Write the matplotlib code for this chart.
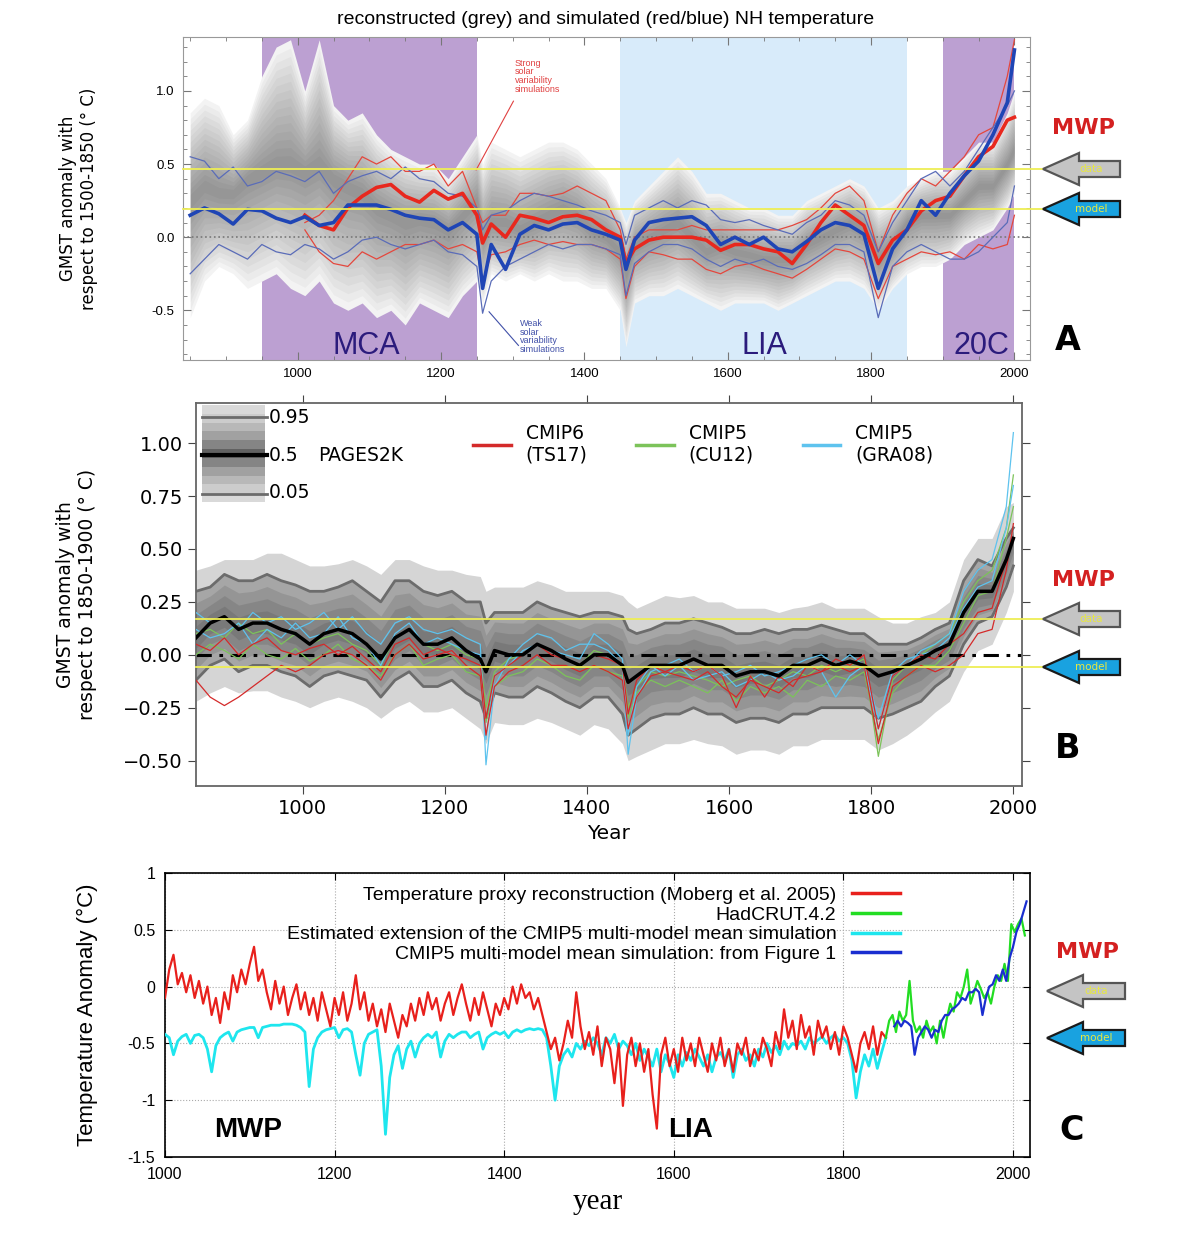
import numpy as np
import matplotlib
matplotlib.use("Agg")
import matplotlib.pyplot as plt
from matplotlib.patches import FancyArrow
from matplotlib.lines import Line2D
from matplotlib.ticker import MultipleLocator, FuncFormatter

nan = np.nan

# ---------------- data: panels A and B share one year grid ----------------
years_ab = [850, 870, 890, 910, 930, 950, 970, 990, 1010, 1030, 1050, 1070,
            1090, 1110, 1130, 1150, 1170, 1190, 1210, 1230, 1250, 1258,
            1270, 1290, 1310, 1330, 1350, 1370, 1390, 1410, 1430, 1450, 1458,
            1470, 1490, 1510, 1530, 1550, 1570, 1590, 1610, 1630, 1650, 1670,
            1690, 1710, 1730, 1750, 1770, 1790, 1810, 1830, 1850, 1870, 1890,
            1910, 1930, 1950, 1970, 1990, 2000]

# panel A: grey reconstruction (outer envelope and median)
recon_hi = [0.85, 0.95, 0.90, 0.70, 0.80, 1.10, 1.30, 1.35, 1.00, 1.35, 0.90, 0.80,
            0.85, 0.70, 0.60, 0.55, 0.50, 0.50, 0.40, 0.55, 0.70, 0.50,
            0.65, 0.60, 0.55, 0.60, 0.65, 0.65, 0.60, 0.50, 0.40, 0.20, 0.10,
            0.25, 0.35, 0.45, 0.55, 0.45, 0.30, 0.30, 0.25, 0.20, 0.20, 0.15,
            0.15, 0.25, 0.30, 0.35, 0.40, 0.35, 0.20, 0.25, 0.35, 0.40, 0.45,
            0.45, 0.55, 0.65, 0.65, 0.85, 1.00]
recon_med = [0.25, 0.35, 0.30, 0.30, 0.40, 0.45, 0.50, 0.50, 0.45, 0.50, 0.40, 0.35,
             0.30, 0.20, 0.15, 0.10, 0.12, 0.10, 0.05, 0.15, 0.25, 0.00,
             0.10, 0.10, 0.05, 0.10, 0.15, 0.20, 0.15, 0.05, 0.00, -0.10, -0.25,
             -0.05, 0.00, 0.05, 0.10, 0.00, -0.10, -0.05, -0.10, -0.12, -0.15, -0.15,
             -0.15, -0.05, 0.00, 0.05, 0.10, 0.05, -0.15, -0.05, 0.10, 0.15, 0.15,
             0.15, 0.25, 0.35, 0.35, 0.50, 0.60]
recon_lo = [-0.55, -0.30, -0.20, -0.25, -0.35, -0.30, -0.25, -0.35, -0.40, -0.30, -0.45, -0.50,
            -0.45, -0.55, -0.50, -0.60, -0.45, -0.50, -0.55, -0.40, -0.30, -0.45,
            -0.25, -0.30, -0.25, -0.30, -0.25, -0.30, -0.30, -0.35, -0.35, -0.50, -0.75,
            -0.45, -0.40, -0.40, -0.35, -0.40, -0.45, -0.50, -0.45, -0.45, -0.45, -0.50,
            -0.45, -0.40, -0.35, -0.30, -0.30, -0.35, -0.50, -0.35, -0.25, -0.20, -0.20,
            -0.15, -0.05, 0.00, 0.05, 0.20, 0.30]

# panel A: strong solar (red) and weak solar (blue) simulations
red_mean = [nan, nan, nan, nan, nan, nan, nan, nan, 0.15, 0.08, 0.05, 0.20,
            0.28, 0.34, 0.36, 0.28, 0.24, 0.32, 0.26, 0.30, 0.15, -0.04,
            0.09, 0.00, 0.15, 0.13, 0.10, 0.14, 0.15, 0.12, 0.05, 0.00, -0.18,
            -0.08, -0.02, 0.00, 0.00, 0.00, -0.02, -0.09, -0.05, -0.05, -0.08, -0.10,
            -0.18, -0.05, 0.10, 0.22, 0.15, 0.08, -0.18, -0.02, 0.05, 0.18, 0.25,
            0.28, 0.42, 0.55, 0.62, 0.80, 0.82]
red_hi = [nan, nan, nan, nan, nan, nan, nan, nan, 0.10, 0.15, 0.25, 0.40,
          0.55, 0.50, 0.55, 0.45, 0.45, 0.50, 0.35, 0.45, 0.20, 0.10,
          0.15, 0.15, 0.30, 0.30, 0.28, 0.30, 0.35, 0.30, 0.25, 0.05, -0.15,
          0.00, 0.05, 0.05, 0.05, 0.08, 0.05, 0.05, 0.05, 0.05, 0.05, 0.05,
          0.08, 0.12, 0.20, 0.30, 0.35, 0.25, -0.10, 0.15, 0.30, 0.40, 0.35,
          0.45, 0.55, 0.70, 0.75, 1.10, 1.35]
red_lo = [nan, nan, nan, nan, nan, nan, nan, nan, 0.05, -0.10, -0.18, -0.20,
          -0.10, -0.15, -0.10, -0.05, -0.05, -0.02, -0.08, -0.05, -0.10, -0.30,
          -0.12, -0.10, -0.05, -0.02, -0.05, -0.03, -0.05, -0.05, -0.08, -0.15, -0.42,
          -0.20, -0.10, -0.12, -0.15, -0.15, -0.22, -0.25, -0.20, -0.18, -0.22, -0.25,
          -0.28, -0.22, -0.15, -0.08, -0.10, -0.15, -0.42, -0.20, -0.15, -0.10, -0.12,
          -0.10, -0.15, -0.05, -0.08, -0.05, 0.15]
blue_mean = [0.15, 0.20, 0.16, 0.09, 0.19, 0.18, 0.13, 0.10, 0.14, 0.08, 0.10, 0.22,
             0.22, 0.22, 0.19, 0.15, 0.13, 0.12, 0.05, 0.10, 0.02, -0.35,
             -0.05, -0.22, 0.02, 0.08, 0.05, 0.09, 0.10, 0.05, 0.02, -0.02, -0.22,
             -0.02, 0.10, 0.12, 0.13, 0.14, 0.08, -0.05, 0.00, -0.05, 0.00, -0.08,
             -0.10, -0.03, 0.05, 0.10, 0.08, 0.02, -0.35, -0.08, 0.05, 0.25, 0.15,
             0.30, 0.42, 0.52, 0.70, 0.92, 1.28]
blue_hi = [0.55, 0.52, 0.40, 0.48, 0.35, 0.38, 0.45, 0.42, 0.38, 0.45, 0.30, 0.38,
           0.42, 0.45, 0.40, 0.48, 0.40, 0.38, 0.30, 0.28, 0.20, 0.05,
           0.15, 0.18, 0.25, 0.30, 0.28, 0.25, 0.22, 0.18, 0.15, 0.10, -0.05,
           0.15, 0.20, 0.25, 0.20, 0.25, 0.22, 0.12, 0.10, 0.12, 0.08, 0.05,
           0.02, 0.10, 0.15, 0.25, 0.22, 0.15, -0.10, 0.10, 0.25, 0.40, 0.45,
           0.35, 0.45, 0.60, 0.75, 0.90, 1.00]
blue_lo = [-0.25, -0.15, -0.05, -0.10, -0.15, -0.05, -0.10, -0.12, -0.05, -0.08, -0.15, -0.10,
           -0.02, 0.00, -0.05, -0.08, -0.05, -0.02, -0.10, -0.12, -0.20, -0.52,
           -0.30, -0.20, -0.15, -0.10, -0.05, -0.08, -0.05, -0.05, -0.08, -0.12, -0.40,
           -0.18, -0.10, -0.05, -0.05, -0.08, -0.15, -0.20, -0.15, -0.18, -0.15, -0.20,
           -0.22, -0.18, -0.12, -0.05, -0.05, -0.10, -0.55, -0.20, -0.10, -0.05, -0.10,
           -0.15, -0.15, -0.10, 0.00, 0.10, 0.35]

# panel B: PAGES2K quantiles
pages_hi = [0.40, 0.42, 0.45, 0.45, 0.45, 0.48, 0.48, 0.45, 0.42, 0.42, 0.43, 0.45,
            0.42, 0.38, 0.45, 0.45, 0.42, 0.40, 0.40, 0.38, 0.37, 0.30,
            0.32, 0.32, 0.32, 0.35, 0.33, 0.30, 0.30, 0.30, 0.30, 0.28, 0.25,
            0.22, 0.25, 0.28, 0.27, 0.28, 0.25, 0.25, 0.22, 0.22, 0.22, 0.20,
            0.22, 0.23, 0.25, 0.22, 0.22, 0.22, 0.18, 0.15, 0.15, 0.18, 0.20,
            0.25, 0.45, 0.55, 0.55, 0.70, 0.72]
pages_p95 = [0.30, 0.32, 0.38, 0.35, 0.35, 0.38, 0.35, 0.33, 0.30, 0.30, 0.32, 0.35,
             0.30, 0.25, 0.35, 0.35, 0.30, 0.28, 0.30, 0.25, 0.25, 0.15,
             0.20, 0.20, 0.20, 0.25, 0.22, 0.20, 0.18, 0.20, 0.20, 0.18, 0.12,
             0.10, 0.12, 0.15, 0.15, 0.17, 0.15, 0.13, 0.10, 0.10, 0.12, 0.10,
             0.12, 0.12, 0.14, 0.12, 0.10, 0.10, 0.05, 0.05, 0.05, 0.08, 0.12,
             0.15, 0.35, 0.45, 0.42, 0.55, 0.60]
pages_med = [0.08, 0.15, 0.18, 0.12, 0.15, 0.15, 0.12, 0.10, 0.05, 0.10, 0.12, 0.10,
             0.05, -0.02, 0.08, 0.12, 0.05, 0.05, 0.08, 0.02, -0.02, -0.08,
             0.02, 0.00, 0.00, 0.05, 0.02, -0.02, -0.05, 0.00, 0.00, -0.05, -0.13,
             -0.10, -0.05, -0.05, -0.05, -0.02, -0.05, -0.05, -0.10, -0.08, -0.08, -0.10,
             -0.05, -0.05, -0.02, -0.05, -0.03, -0.05, -0.10, -0.08, -0.05, -0.02, 0.02,
             0.05, 0.20, 0.30, 0.30, 0.45, 0.55]
pages_p05 = [-0.12, -0.05, -0.02, -0.08, -0.05, -0.05, -0.08, -0.10, -0.15, -0.10, -0.08, -0.10,
             -0.12, -0.20, -0.12, -0.08, -0.15, -0.15, -0.12, -0.18, -0.22, -0.30,
             -0.18, -0.20, -0.20, -0.15, -0.18, -0.22, -0.25, -0.20, -0.20, -0.28, -0.38,
             -0.35, -0.30, -0.28, -0.28, -0.25, -0.28, -0.28, -0.32, -0.30, -0.30, -0.32,
             -0.28, -0.28, -0.25, -0.25, -0.25, -0.25, -0.30, -0.28, -0.25, -0.22, -0.15,
             -0.10, 0.05, 0.15, 0.18, 0.32, 0.42]
pages_lo = [-0.22, -0.18, -0.15, -0.18, -0.17, -0.17, -0.20, -0.22, -0.25, -0.22, -0.20, -0.22,
            -0.25, -0.30, -0.25, -0.22, -0.27, -0.27, -0.25, -0.30, -0.35, -0.42,
            -0.32, -0.33, -0.33, -0.30, -0.32, -0.35, -0.38, -0.33, -0.35, -0.42, -0.50,
            -0.48, -0.45, -0.42, -0.42, -0.40, -0.42, -0.43, -0.47, -0.45, -0.45, -0.47,
            -0.43, -0.43, -0.40, -0.40, -0.40, -0.40, -0.45, -0.42, -0.38, -0.33, -0.27,
            -0.22, -0.08, 0.02, 0.05, 0.20, 0.30]

# panel B: model runs
cmip6_a = [-0.12, -0.20, -0.24, -0.20, -0.15, -0.10, -0.05, -0.08, -0.05, 0.00, 0.02, 0.00,
           -0.05, -0.12, 0.00, 0.05, -0.02, 0.00, 0.02, -0.05, -0.10, -0.38,
           -0.15, -0.08, -0.05, 0.00, -0.05, -0.05, -0.08, -0.05, -0.08, -0.12, -0.35,
           -0.20, -0.10, -0.08, -0.10, -0.12, -0.08, -0.15, -0.20, -0.12, -0.15, -0.18,
           -0.12, -0.10, -0.08, -0.05, -0.08, -0.05, -0.42, -0.15, -0.10, -0.05, -0.08,
           -0.05, 0.00, 0.10, 0.12, 0.40, 0.62]
cmip6_b = [0.05, 0.02, 0.08, 0.00, 0.05, 0.08, 0.02, 0.00, 0.03, 0.05, 0.00, 0.04,
           -0.02, -0.08, 0.05, 0.08, 0.00, 0.03, 0.00, -0.02, -0.05, -0.30,
           -0.10, -0.05, 0.00, 0.05, 0.00, -0.02, -0.05, 0.00, -0.02, -0.05, -0.28,
           -0.12, -0.05, -0.08, -0.05, -0.08, -0.05, -0.10, -0.25, -0.10, -0.20, -0.10,
           -0.15, -0.05, -0.08, -0.02, -0.05, 0.00, -0.35, -0.10, -0.05, 0.00, -0.02,
           0.05, 0.10, 0.20, 0.22, 0.45, 0.55]
cu12_a = [0.10, 0.12, 0.08, 0.15, 0.10, 0.12, 0.05, 0.10, 0.05, 0.08, 0.10, 0.05,
          0.02, -0.05, 0.08, 0.12, 0.05, 0.02, 0.05, 0.00, -0.02, -0.25,
          -0.08, -0.02, 0.00, 0.05, 0.02, -0.02, -0.05, 0.02, 0.00, -0.05, -0.25,
          -0.15, -0.08, -0.10, -0.08, -0.10, -0.12, -0.15, -0.12, -0.10, -0.15, -0.12,
          -0.08, -0.10, -0.05, -0.08, -0.05, -0.02, -0.48, -0.12, -0.05, 0.00, 0.05,
          0.10, 0.25, 0.35, 0.40, 0.60, 0.85]
cu12_b = [0.00, 0.05, 0.02, -0.02, 0.05, 0.00, -0.02, 0.03, -0.03, 0.00, 0.05, -0.02,
          -0.05, -0.10, 0.00, 0.05, -0.05, -0.02, 0.00, -0.08, -0.10, -0.32,
          -0.15, -0.10, -0.08, -0.02, -0.05, -0.10, -0.12, -0.05, -0.08, -0.10, -0.30,
          -0.18, -0.12, -0.15, -0.12, -0.15, -0.18, -0.12, -0.22, -0.15, -0.18, -0.15,
          -0.20, -0.12, -0.15, -0.10, -0.12, -0.08, -0.40, -0.18, -0.10, -0.05, -0.05,
          0.02, 0.15, 0.28, 0.30, 0.55, 0.70]
gra08_a = [0.20, 0.15, 0.18, 0.12, 0.20, 0.15, 0.18, 0.12, 0.15, 0.20, 0.12, 0.18,
           0.10, 0.05, 0.15, 0.18, 0.12, 0.10, 0.12, 0.08, 0.05, -0.52,
           -0.15, -0.02, 0.05, 0.10, 0.08, 0.02, 0.05, 0.05, 0.02, -0.05, -0.47,
           -0.20, -0.08, -0.05, -0.02, -0.08, -0.05, -0.10, -0.08, -0.05, -0.10, -0.08,
           -0.05, -0.02, 0.00, -0.05, 0.00, -0.05, -0.35, -0.10, -0.05, 0.02, 0.05,
           0.10, 0.30, 0.40, 0.45, 0.70, 1.05]
gra08_b = [0.12, 0.08, 0.10, 0.15, 0.05, 0.12, 0.08, 0.15, 0.08, 0.10, 0.18, 0.08,
           0.05, -0.05, 0.10, 0.15, 0.05, 0.08, 0.05, 0.02, 0.00, -0.40,
           -0.10, -0.05, 0.02, 0.05, 0.02, 0.00, -0.02, 0.10, 0.05, -0.02, -0.38,
           -0.15, -0.05, -0.10, -0.05, -0.12, -0.10, -0.08, -0.15, -0.12, -0.08, -0.12,
           -0.10, -0.05, -0.08, -0.20, -0.10, -0.05, -0.30, -0.08, -0.02, 0.00, 0.02,
           0.08, 0.22, 0.32, 0.35, 0.60, 0.80]

a_levels = [0.465, 0.19]
b_levels = [0.17, -0.057]

# ---------------- panel C ----------------
years_c = list(range(1000, 1851, 5))
moberg = [-0.10, 0.15, 0.28, 0.02, 0.12, -0.05, 0.10, -0.10, 0.05, -0.15,
          0.00, -0.25, -0.10, -0.32, -0.05, -0.20, 0.10, -0.05, 0.15, 0.02,
          0.20, 0.35, 0.05, 0.15, -0.05, -0.20, 0.05, -0.15, 0.00, -0.25,
          -0.10, 0.02, -0.20, -0.05, -0.25, -0.10, -0.30, -0.05, -0.20, -0.35,
          -0.10, -0.25, -0.05, -0.30, -0.15, 0.10, -0.20, -0.05, -0.30, -0.15,
          -0.35, -0.20, -0.40, -0.15, -0.30, -0.45, -0.25, -0.35, -0.15, -0.30,
          -0.10, -0.25, -0.05, -0.20, -0.10, -0.30, -0.15, -0.05, -0.25, -0.10,
          0.02, -0.15, -0.30, -0.10, -0.25, -0.05, -0.20, -0.35, -0.15, -0.25,
          -0.10, -0.20, 0.00, -0.15, 0.02, -0.10, -0.05, -0.20, -0.10, -0.25,
          -0.40, -0.55, -0.45, -0.65, -0.50, -0.30, -0.45, -0.05, -0.35, -0.55,
          -0.40, -0.60, -0.35, -0.70, -0.45, -0.55, -0.85, -0.50, -1.05, -0.60,
          -0.45, -0.70, -0.50, -0.75, -0.55, -0.95, -1.25, -0.60, -0.45, -0.70,
          -0.55, -0.75, -0.45, -0.65, -0.50, -0.70, -0.45, -0.60, -0.75, -0.50,
          -0.65, -0.45, -0.70, -0.55, -0.75, -0.50, -0.60, -0.45, -0.70, -0.55,
          -0.65, -0.45, -0.55, -0.70, -0.40, -0.55, -0.20, -0.45, -0.30, -0.55,
          -0.25, -0.45, -0.35, -0.60, -0.30, -0.45, -0.35, -0.55, -0.40, -0.60,
          -0.35, -0.45, -0.60, -0.75, -0.50, -0.40, -0.55, -0.35, -0.60, -0.40,
          -0.45]
cmip5_ext = [-0.42, -0.45, -0.60, -0.48, -0.44, -0.42, -0.50, -0.43, -0.42, -0.45,
             -0.55, -0.75, -0.52, -0.45, -0.42, -0.40, -0.48, -0.40, -0.38, -0.37,
             -0.36, -0.36, -0.45, -0.36, -0.35, -0.34, -0.34, -0.34, -0.33, -0.33,
             -0.33, -0.34, -0.36, -0.40, -0.88, -0.55, -0.45, -0.40, -0.38, -0.37,
             -0.36, -0.45, -0.38, -0.37, -0.40, -0.60, -0.78, -0.50, -0.42, -0.40,
             -0.38, -0.70, -1.30, -0.80, -0.60, -0.52, -0.72, -0.55, -0.48, -0.62,
             -0.50, -0.45, -0.42, -0.45, -0.40, -0.62, -0.48, -0.42, -0.45, -0.42,
             -0.40, -0.40, -0.45, -0.42, -0.40, -0.55, -0.45, -0.42, -0.40, -0.42,
             -0.40, -0.45, -0.40, -0.38, -0.40, -0.38, -0.37, -0.38, -0.37, -0.38,
             -0.45, -0.70, -1.00, -0.70, -0.60, -0.55, -0.62, -0.50, -0.55, -0.48,
             -0.52, -0.45, -0.50, -0.60, -0.45, -0.50, -0.42, -0.55, -0.48, -0.52,
             -0.60, -0.50, -0.65, -0.55, -0.62, -0.70, -0.55, -0.75, -0.60, -0.68,
             -0.80, -0.60, -0.70, -0.58, -0.65, -0.55, -0.62, -0.70, -0.60, -0.75,
             -0.62, -0.58, -0.65, -0.55, -0.80, -0.60, -0.55, -0.65, -0.60, -0.70,
             -0.55, -0.62, -0.50, -0.58, -0.52, -0.60, -0.48, -0.55, -0.50, -0.52,
             -0.48, -0.55, -0.45, -0.50, -0.47, -0.44, -0.50, -0.45, -0.42, -0.48,
             -0.45, -0.50, -0.65, -0.98, -0.75, -0.60, -0.70, -0.55, -0.72, -0.58,
             -0.45]
years_had = list(range(1850, 2015, 4))
hadcrut = [-0.45, -0.30, -0.25, -0.40, -0.22, -0.30, -0.25, 0.05, -0.30, -0.40,
           -0.35, -0.45, -0.30, -0.40, -0.35, -0.50, -0.30, -0.45, -0.28, -0.15,
           -0.22, -0.05, -0.10, 0.00, 0.15, -0.15, -0.05, 0.05, -0.02, -0.10,
           -0.05, -0.15, 0.00, 0.10, 0.05, 0.20, 0.05, 0.55, 0.48, 0.55, 0.60,
           0.45]
years_mm = list(range(1860, 2017, 4))
cmip5_mm = [-0.35, -0.30, -0.35, -0.30, -0.32, -0.35, -0.60, -0.45, -0.40, -0.35,
            -0.38, -0.45, -0.38, -0.40, -0.30, -0.25, -0.25, -0.20, -0.18, -0.15,
            -0.10, -0.12, -0.05, -0.05, -0.02, -0.05, -0.25, -0.10, 0.00, 0.02,
            0.10, 0.05, 0.15, 0.05, 0.25, 0.35, 0.48, 0.55, 0.65, 0.75]


def fan(ax, x, lo, mid, hi, dark, alpha, n, z):
    # stacked translucent bands between the envelope and the median
    lo, mid, hi = np.array(lo), np.array(mid), np.array(hi)
    for k in range(1, n + 1):
        f = k / (n + 1)
        ax.fill_between(x, mid - (mid - lo) * (1 - f), mid + (hi - mid) * (1 - f),
                        color=dark, alpha=alpha, lw=0, zorder=z)


hyphen = FuncFormatter(lambda v, p: ('%g' % round(v, 2)))

fig = plt.figure(figsize=(12, 12.48), dpi=100)

# ---------------- panel A ----------------
ax_a = fig.add_axes([0.1525, 0.7115, 0.706, 0.259])
ax_a.axvspan(950, 1250, color='#bca0d2', lw=0, zorder=0)
ax_a.axvspan(1450, 1850, color='#d8ebfa', lw=0, zorder=0)
ax_a.axvspan(1900, 2000, color='#bca0d2', lw=0, zorder=0)
ax_a.fill_between(years_ab, recon_lo, recon_hi, color='#f3f3f3', lw=0, zorder=1)
fan(ax_a, years_ab, recon_lo, recon_med, recon_hi, 'k', 0.032, 14, 1.1)
ax_a.axhline(0, color='#777777', ls=':', lw=1.2, zorder=2)

ax_a.plot(years_ab, red_hi, color='#e4473d', lw=0.9, zorder=3)
ax_a.plot(years_ab, red_lo, color='#e4473d', lw=0.9, zorder=3)
ax_a.plot(years_ab, blue_hi, color='#5a6cb8', lw=0.9, zorder=3)
ax_a.plot(years_ab, blue_lo, color='#5a6cb8', lw=0.9, zorder=3)
ax_a.plot(years_ab, red_mean, color='#e8281e', lw=2.6, zorder=4)
ax_a.plot(years_ab, blue_mean, color='#1f45b5', lw=2.6, zorder=4)

for lev in a_levels:
    ax_a.plot([840, 2040], [lev, lev], color='#eeee55', lw=1.3, clip_on=False, zorder=6)

ax_a.plot([1301, 1249], [0.93, 0.46], color='#e04040', lw=0.8, zorder=5)
ax_a.text(1303, 1.22, 'Strong\nsolar\nvariability\nsimulations', color='#e04040',
          fontsize=6.5, va='top', linespacing=0.95, family='Liberation Sans', zorder=5)
ax_a.plot([1267, 1308], [-0.51, -0.74], color='#4050a8', lw=0.8, zorder=5)
ax_a.text(1310, -0.56, 'Weak\nsolar\nvariability\nsimulations', color='#4050a8',
          fontsize=6.5, va='top', linespacing=0.95, family='Liberation Sans', zorder=5)

for lab, xc in [('MCA', 1096), ('LIA', 1651), ('20C', 1954)]:
    ax_a.text(xc, -0.80, lab, ha='center', va='baseline', fontsize=22,
              color='#2b1b7c', family='Liberation Sans', zorder=5)

ax_a.set_xlim(840, 2022)
ax_a.set_ylim(-0.84, 1.37)
ax_a.xaxis.set_major_locator(MultipleLocator(200))
ax_a.xaxis.set_minor_locator(MultipleLocator(50))
ax_a.yaxis.set_major_locator(MultipleLocator(0.5))
ax_a.yaxis.set_minor_locator(MultipleLocator(0.1))
ax_a.yaxis.set_major_formatter(FuncFormatter(lambda v, p: '%.1f' % v))
ax_a.tick_params(which='both', direction='in', top=True, right=True,
                 labelsize=9.5, color='#777777', pad=6)
ax_a.tick_params(which='major', length=6)
ax_a.tick_params(which='minor', length=3)
for t in ax_a.get_xticklabels() + ax_a.get_yticklabels():
    t.set_family('Liberation Sans')
for s in ax_a.spines.values():
    s.set_color('#999999')
ax_a.set_ylabel('GMST anomaly with\nrespect to 1500-1850 (° C)', fontsize=12)
ax_a.yaxis.set_label_coords(-0.100, 0.5)
fig.text(0.505, 0.984, 'reconstructed (grey) and simulated (red/blue) NH temperature',
         ha='center', va='center', fontsize=14, family='Liberation Sans')

# ---------------- panel B ----------------
ax_b = fig.add_axes([0.1633, 0.3702, 0.6883, 0.3069])
ax_b.fill_between(years_ab, pages_lo, pages_hi, color='#d5d5d5', lw=0, zorder=1)
ax_b.fill_between(years_ab, pages_p05, pages_p95, color='#a6a6a6', lw=0, zorder=1.1)
fan(ax_b, years_ab, pages_p05, pages_med, pages_p95, '#303030', 0.14, 3, 1.2)
ax_b.plot(years_ab, pages_p95, color='#6c6c6c', lw=2, zorder=2)
ax_b.plot(years_ab, pages_p05, color='#6c6c6c', lw=2, zorder=2)
ax_b.axhline(0, color='k', ls=(0, (5, 2.5, 1.2, 2.5)), lw=2.2, zorder=2.5)

c_red, c_green, c_cyan = '#d42a2a', '#7cc35a', '#5ec3ee'
for ser in (cu12_a, cu12_b):
    ax_b.plot(years_ab, ser, color=c_green, lw=0.9, zorder=3)
for ser in (gra08_a, gra08_b):
    ax_b.plot(years_ab, ser, color=c_cyan, lw=0.9, zorder=3)
for ser in (cmip6_a, cmip6_b):
    ax_b.plot(years_ab, ser, color=c_red, lw=0.9, zorder=3)
ax_b.plot(years_ab, pages_med, color='k', lw=2.5, zorder=4)

for lev in b_levels:
    ax_b.plot([850, 2041], [lev, lev], color='#eeee55', lw=1.3, clip_on=False, zorder=6)

ax_b.set_xlim(850, 2012)
ax_b.set_ylim(-0.62, 1.19)
ax_b.xaxis.set_major_locator(MultipleLocator(200))
ax_b.yaxis.set_major_locator(MultipleLocator(0.25))
ax_b.tick_params(direction='out', length=6, top=True, right=True, labelsize=14,
                 color='#444444')
for s in ax_b.spines.values():
    s.set_color('#666666')
    s.set_linewidth(1.3)
ax_b.set_xlabel('Year', fontsize=14.5, labelpad=4)
ax_b.set_ylabel('GMST anomaly with\nrespect to 1850-1900 (° C)', fontsize=13.5)
ax_b.yaxis.set_label_coords(-0.12, 0.5)

handles = [Line2D([], [], color=c, lw=2.5) for c in (c_red, c_green, c_cyan)]
ax_b.legend(handles, ['CMIP6\n(TS17)', 'CMIP5\n(CU12)', 'CMIP5\n(GRA08)'], ncol=3,
            loc='upper left', bbox_to_anchor=(0.315, 0.99), frameon=False,
            fontsize=13.5, handlelength=2.0, columnspacing=2.6, handletextpad=0.8)

# PAGES2K quantile key
key = ax_b.inset_axes([0.007, 0.742, 0.076, 0.253])
shade = np.array([0.85, 0.8, 0.72, 0.63, 0.52, 0.38, 0.52, 0.63, 0.72, 0.8, 0.85])
key.imshow(shade[:, None], cmap='gray', vmin=0, vmax=1, aspect='auto',
           extent=[0, 1, 0, 1], interpolation='nearest')
key.plot([0, 1.04], [0.876, 0.876], color='#6c6c6c', lw=2, clip_on=False)
key.plot([0, 1.04], [0.485, 0.485], color='k', lw=3, clip_on=False)
key.plot([0, 1.04], [0.082, 0.082], color='#6c6c6c', lw=2, clip_on=False)
key.set_xlim(0, 1)
key.set_ylim(0, 1)
key.axis('off')
for lab, yy in [('0.95', 0.963), ('0.5', 0.864), ('0.05', 0.765)]:
    ax_b.text(0.088, yy, lab, fontsize=13.5, va='center', transform=ax_b.transAxes)
ax_b.text(0.148, 0.864, 'PAGES2K', fontsize=13.5, va='center', transform=ax_b.transAxes)

# ---------------- panel C ----------------
ax_c = fig.add_axes([0.1375, 0.0729, 0.7208, 0.2276])
l_cy, = ax_c.plot(years_c, cmip5_ext, color='#1ee6ee', lw=2, zorder=3)
l_rd, = ax_c.plot(years_c, moberg, color='#e8201c', lw=1.6, zorder=3.5)
l_gr, = ax_c.plot(years_had, hadcrut, color='#22dd22', lw=1.6, zorder=4)
l_bl, = ax_c.plot(years_mm, cmip5_mm, color='#1a2ed0', lw=1.6, zorder=4.5)
ax_c.legend([l_rd, l_gr, l_cy, l_bl],
            ['Temperature proxy reconstruction (Moberg et al. 2005)', 'HadCRUT.4.2',
             'Estimated extension of the CMIP5 multi-model mean simulation',
             'CMIP5 multi-model mean simulation: from Figure 1'],
            loc='upper right', bbox_to_anchor=(0.866, 1.0), markerfirst=False,
            frameon=False, handlelength=2.5, labelspacing=0.1, borderaxespad=0.3,
            prop={'family': 'Liberation Sans', 'size': 14})
for h in ax_c.get_legend().get_lines():
    h.set_linewidth(2.5)
ax_c.text(1058, -1.26, 'MWP', fontsize=20, fontweight='bold', va='center',
          family='Liberation Sans')
ax_c.text(1593, -1.26, 'LIA', fontsize=20, fontweight='bold', va='center',
          family='Liberation Sans')
ax_c.set_xlim(1000, 2020)
ax_c.set_ylim(-1.5, 1)
ax_c.xaxis.set_major_locator(MultipleLocator(200))
ax_c.yaxis.set_major_locator(MultipleLocator(0.5))
ax_c.yaxis.set_major_formatter(hyphen)
ax_c.grid(True, ls=':', color='#aaaaaa', lw=0.8)
ax_c.tick_params(direction='in', top=True, right=True, labelsize=11.5, length=5, pad=7)
for t in ax_c.get_xticklabels() + ax_c.get_yticklabels():
    t.set_family('Liberation Sans')
for s in ax_c.spines.values():
    s.set_linewidth(1.2)
ax_c.set_ylabel('Temperature Anomaly (°C)', fontsize=16, family='Liberation Sans')
ax_c.yaxis.set_label_coords(-0.077, 0.5)
ax_c.set_xlabel('year', fontsize=21, family='Liberation Serif', labelpad=5)

# ---------------- right-hand annotations (pixel overlay) ----------------
ov = fig.add_axes([0, 0, 1, 1], zorder=10)
ov.set_xlim(0, 1200)
ov.set_ylim(1248, 0)
ov.axis('off')
ov.patch.set_alpha(0)

marks = [(128, 169, 209, 1043, 1120, 340, 'A'),
         (580, 619, 667, 1043, 1120, 748, 'B'),
         (952, 991, 1038, 1047, 1125, 1130, 'C')]
for y_mwp, y_dat, y_mod, tip, tail, y_lab, lab in marks:
    ov.text(tip + 40, y_mwp, 'MWP', color='#d42020', fontsize=16, fontweight='bold',
            ha='center', va='center')
    for yy, fc, ec, txt in [(y_dat, '#c4c4c4', '#555555', 'data'),
                            (y_mod, '#19a2e0', '#1a1a1a', 'model')]:
        ov.add_patch(FancyArrow(tail, yy, tip - tail, 0, width=16, head_width=32,
                                head_length=36, length_includes_head=True,
                                fc=fc, ec=ec, lw=1.6))
        ov.text((tip + tail) / 2 + 10, yy, txt, color='#e8e840', fontsize=7.5,
                ha='center', va='center')
    ov.text(tip + 25, y_lab, lab, fontsize=24, fontweight='bold', ha='center',
            va='center')

fig.savefig('out.png', dpi=100)
